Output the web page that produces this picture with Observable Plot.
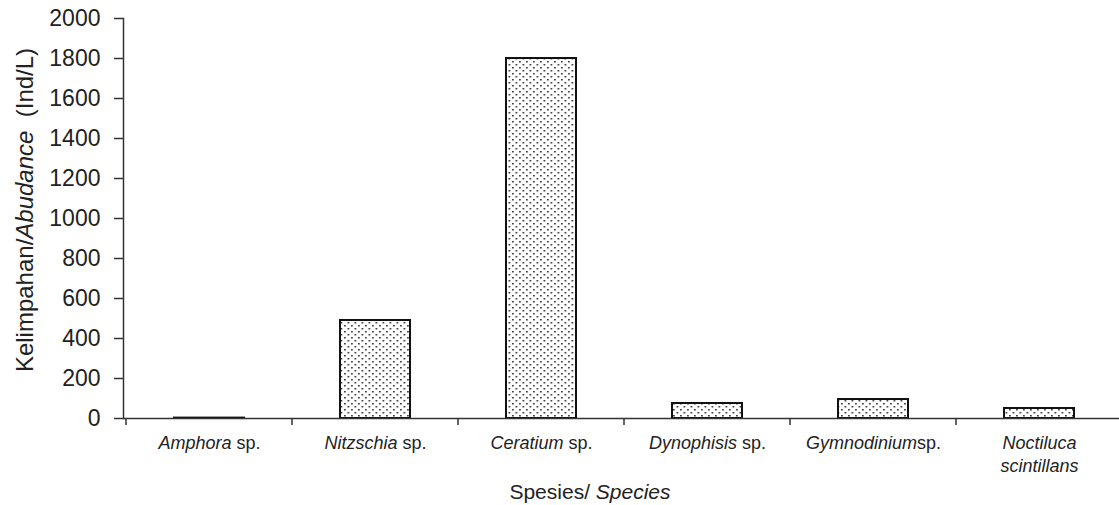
<!DOCTYPE html>
<html><head><meta charset="utf-8">
<script src="https://cdn.jsdelivr.net/npm/d3@7"></script>
<script src="https://cdn.jsdelivr.net/npm/@observablehq/plot@0.6"></script>
<style>body{margin:0;background:#fff} svg{display:block}</style>
</head><body><div id="chart"></div>
<script>
// Data
const species = ["Amphora sp.", "Nitzschia sp.", "Ceratium sp.", "Dynophisis sp.", "Gymnodinium sp.", "Noctiluca scintillans"];
const abundance = [2, 490, 1800, 75, 95, 50];
const labelItalic = ["Amphora", "Nitzschia", "Ceratium", "Dynophisis", "Gymnodinium", "Noctiluca"];
const labelRoman = [" sp.", " sp.", " sp.", " sp.", "sp.", ""];
const labelLine2 = ["", "", "", "", "", "scintillans"];
const yTicks = [0, 200, 400, 600, 800, 1000, 1200, 1400, 1600, 1800, 2000];
const yTitle = ["Kelimpahan/", "Abudance", "  (Ind/L)"];
const xTitle = ["Spesies/ ", "Species"];

const data = species.map((s, i) => ({species: s, value: abundance[i]}));
const FONT = "'Liberation Sans', Arial, sans-serif";

const plot = Plot.plot({
  width: 1119, height: 505,
  marginLeft: 123, marginRight: -5, marginTop: 18, marginBottom: 87,
  style: {fontFamily: FONT, color: "#222", background: "#fff", overflow: "visible"},
  x: {domain: species, paddingInner: 0.58, paddingOuter: 0.29, label: null},
  y: {domain: [0, 2000], label: null},
  marks: [
    Plot.barY(data, {x: "species", y: "value", fill: "url(#dots)", stroke: "#111", strokeWidth: 2}),
    Plot.axisY({ticks: yTicks, tickFormat: d => String(d), tickSize: 9, tickPadding: 14, fontSize: 23, label: null, stroke: "#333", strokeWidth: 1.5}),
    Plot.axisX({tickSize: 0, tickPadding: 18, fontSize: 18, label: null, tickFormat: d => d}),
    Plot.ruleY([0], {stroke: "#333", strokeWidth: 1.5}),
    Plot.frame({anchor: "left", stroke: "#333", strokeWidth: 1.5})
  ]
});

const svg = d3.select(plot);
// dotted fill pattern
const pat = svg.insert("defs", ":first-child").append("pattern")
  .attr("id", "dots").attr("patternUnits", "userSpaceOnUse")
  .attr("width", 7).attr("height", 6);
pat.append("rect").attr("width", 7).attr("height", 6).attr("fill", "#fff");
pat.append("rect").attr("x", 1).attr("y", 1).attr("width", 1.8).attr("height", 1.5).attr("fill", "#444");
pat.append("rect").attr("x", 4.5).attr("y", 4).attr("width", 1.8).attr("height", 1.5).attr("fill", "#444");

// category boundary ticks, computed from the library's x scale
const xs = plot.scale("x");
const centers = species.map(s => xs.apply(s) + xs.bandwidth / 2);
const step = centers[1] - centers[0];
const y0 = plot.scale("y").apply(0);
const bounds = [centers[0] - step / 2, ...centers.map(c => c + step / 2)];
svg.append("g").selectAll("line").data(bounds).join("line")
  .attr("x1", d => d).attr("x2", d => d).attr("y1", y0).attr("y2", y0 + 7)
  .attr("stroke", "#333").attr("stroke-width", 1.5);

// rich x tick labels (italic genus + roman suffix)
svg.selectAll("g[aria-label='x-axis tick label'] text").each(function(d, i) {
  const t = d3.select(this);
  const key = t.text().replace(/\s+/g, " ").trim();
  const idx = species.indexOf(key) >= 0 ? species.indexOf(key) : i;
  t.text(null).attr("dy", null).attr("y", null);
  const l1 = t.append("tspan").attr("x", 0).attr("dy", "0.71em");
  l1.append("tspan").attr("font-style", "italic").text(labelItalic[idx]);
  if (labelRoman[idx]) l1.append("tspan").text(labelRoman[idx]);
  if (labelLine2[idx]) t.append("tspan").attr("x", 0).attr("dy", 23).attr("font-style", "italic").text(labelLine2[idx]);
});

// axis titles
const yt = svg.append("text").attr("transform", `translate(33,210) rotate(-90)`)
  .attr("text-anchor", "middle").attr("font-size", 24).attr("fill", "#222").style("white-space", "pre");
yt.append("tspan").text(yTitle[0]);
yt.append("tspan").attr("font-style", "italic").text(yTitle[1]);
yt.append("tspan").text(yTitle[2]);

const xt = svg.append("text").attr("x", 590).attr("y", 499)
  .attr("text-anchor", "middle").attr("font-size", 21).attr("fill", "#222");
xt.append("tspan").text(xTitle[0]);
xt.append("tspan").attr("font-style", "italic").text(xTitle[1]);

document.getElementById("chart").appendChild(plot);
</script>
</body></html>
